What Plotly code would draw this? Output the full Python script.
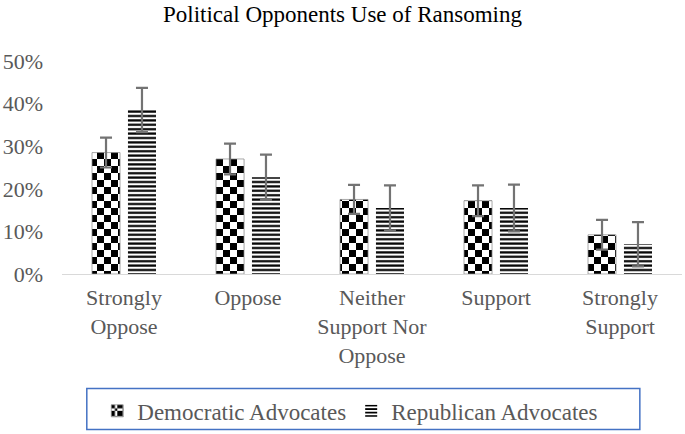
import plotly.graph_objects as go

# survey answers (x categories)
categories = ["Strongly<br>Oppose", "Oppose", "Neither<br>Support Nor<br>Oppose",
              "Support", "Strongly<br>Support"]

# share of respondents
dem_values = [0.285, 0.27, 0.175, 0.172, 0.092]
rep_values = [0.385, 0.227, 0.155, 0.155, 0.07]

# error bar half-lengths
dem_err = [0.035, 0.036, 0.034, 0.036, 0.035]
rep_err = [0.052, 0.053, 0.053, 0.055, 0.052]

TXT = "#595959"
SERIF = "Liberation Serif"

# checkerboard fill for the democratic bars (custom path if this plotly has it)
try:
    checker = go.bar.marker.Pattern(path="M0,0H7V7H0ZM7,7H14V14H7Z", size=14,
                                    solidity=1, fillmode="replace", fgcolor="black",
                                    bgcolor="white", fgopacity=1)
except ValueError:
    checker = go.bar.marker.Pattern(shape="+", size=14, solidity=0.75,
                                    fillmode="replace", fgcolor="white",
                                    bgcolor="black", fgopacity=1)

stripes = go.bar.marker.Pattern(shape="-", size=4.4, solidity=0.5,
                                fillmode="replace", fgcolor="black",
                                bgcolor="white", fgopacity=1)

err_style = dict(type="data", visible=True, color="#737373", thickness=2.2, width=6)

fig = go.Figure()
fig.add_trace(go.Bar(
    name="Democratic Advocates", x=categories, y=dem_values,
    marker=dict(color="white", pattern=checker, line=dict(color="#8c8c8c", width=0.75)),
    error_y=dict(array=dem_err, **err_style),
))
fig.add_trace(go.Bar(
    name="Republican Advocates", x=categories, y=rep_values,
    marker=dict(color="white", pattern=stripes, line=dict(width=0)),
    error_y=dict(array=rep_err, **err_style),
))

fig.update_layout(
    width=685, height=434,
    margin=dict(l=62, r=3, t=61, b=159),
    paper_bgcolor="white", plot_bgcolor="white",
    font=dict(family=SERIF, color=TXT, size=22),
    barmode="group", bargap=0.42, bargroupgap=0.22,
    title=dict(text="Political Opponents Use of Ransoming", x=0.5, xanchor="center",
               y=0.968, yanchor="middle",
               font=dict(family=SERIF, size=23, color="black")),
    xaxis=dict(showline=True, linecolor="#d9d9d9", linewidth=1, showgrid=False,
               ticks="", ticklabelstandoff=4, tickfont=dict(family=SERIF, size=22, color=TXT)),
    yaxis=dict(range=[0, 0.5], dtick=0.1, tickformat=".0%", showgrid=False,
               zeroline=False, showline=False, ticks="", ticklabelstandoff=18,
               tickfont=dict(family=SERIF, size=22, color=TXT)),
    showlegend=True,
    legend=dict(orientation="h", x=0.465, xanchor="center", y=-0.635, yanchor="middle",
                font=dict(family=SERIF, size=23, color=TXT), bgcolor="rgba(0,0,0,0)",
                itemwidth=30, traceorder="normal"),
    shapes=[dict(type="rect", xref="paper", yref="paper", x0=0.040, x1=0.932,
                 y0=-0.73, y1=-0.537, line=dict(color="#4472C4", width=1.5),
                 fillcolor="rgba(0,0,0,0)", layer="below")],
)

# drop the default page margin so the figure sits at the window corner
fig.write_html("out.html", config={"displayModeBar": False},
               post_script="document.body.style.margin='0';")
